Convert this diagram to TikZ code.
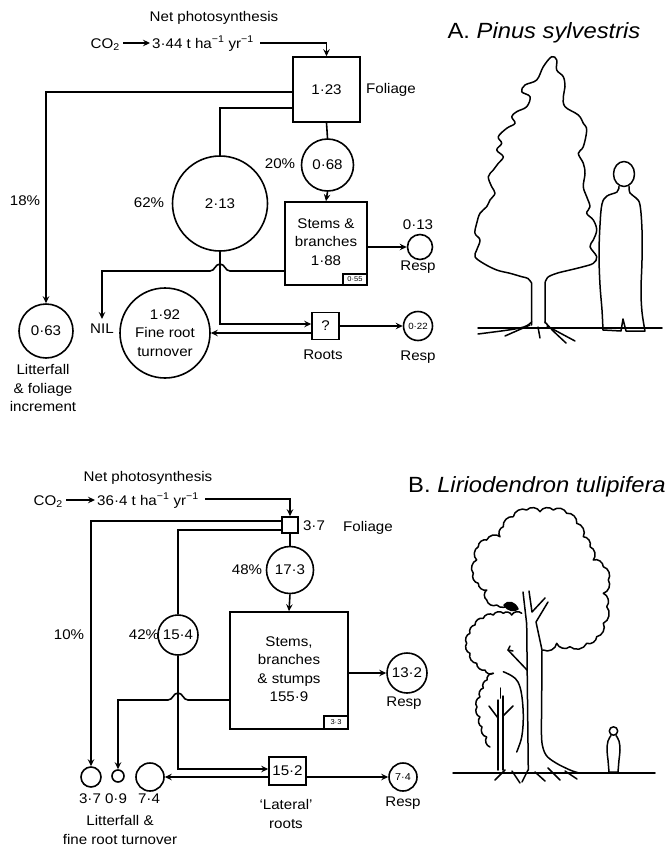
\documentclass[tikz,border=0pt]{standalone}
\usepackage{fontspec}
\setmainfont{Liberation Sans}[FakeStretch=1.08]
\usetikzlibrary{arrows.meta,calc}
\tikzset{
  ln/.style={line width=1.6pt},
  arr/.style={line width=1.6pt, -{Stealth[length=7pt,width=6.5pt,inset=2.5pt]}},
  box/.style={draw, line width=1.6pt, inner sep=0pt, font=\fontsize{14}{17}\selectfont},
  circ/.style={draw, circle, line width=1.6pt, inner sep=0pt, font=\fontsize{14}{17}\selectfont},
  lbl/.style={font=\fontsize{14}{18.5}\selectfont, inner sep=0pt, align=center},
  ttl/.style={font=\fontsize{22}{26}\selectfont, inner sep=0pt},
  tiny/.style={font=\fontsize{7}{8}\selectfont},
  art/.style={line width=1.5pt, line join=round, line cap=round},
  scal/.style={bend right=55}
}
\begin{document}
\begin{tikzpicture}[x=1pt,y=-1pt]
\fill[white] (0,0) rectangle (669,846);
\useasboundingbox (0,0) rectangle (669,846);

% ================= A =================
\node[ttl] (titleA) at (544,33) {A. \textit{Pinus sylvestris}};
\node[lbl] (netA) at (214,18) {Net photosynthesis};
\node[lbl, anchor=base east] (co2A) at (120,48) {CO\textsubscript{2}};
\node[lbl, anchor=base west] (fluxA) at (152,48) {3·44 t ha\textsuperscript{−1} yr\textsuperscript{−1}};
\node[box, minimum width=67pt, minimum height=65pt] (folA) at (326.5,89.5) {1·23};
\node[lbl] (folAl) at (391,90) {Foliage};
\node[circ, minimum size=52pt] (c068) at (327.5,165) {0·68};
\node[lbl] (p20) at (280,164) {20\%};
\node[circ, minimum size=95pt] (c213) at (220,203.5) {2·13};
\node[lbl] (p62) at (149,203) {62\%};
\node[lbl] (p18) at (25,201) {18\%};
\node[box, minimum width=82pt, minimum height=83pt] (stA) at (326,243.5) {};
\node[lbl] (stAt) at (326,242) {Stems \&\\branches\\1·88};
\node[box, tiny, minimum width=24pt, minimum height=11pt, anchor=south east] (sbA) at (stA.south east) {0·55};
\node[circ, minimum size=25pt] (c013) at (420,247) {};
\node[lbl] (l013) at (418,225) {0·13};
\node[lbl] (r013) at (418,267) {Resp};
\node[circ, minimum size=54pt] (c063) at (46,331) {0·63};
\node[lbl] (litA) at (43,388) {Litterfall\\\& foliage\\increment};
\node[lbl, inner sep=5pt] (nil) at (102,329) {NIL};
\node[circ, minimum size=90pt, align=center, font=\fontsize{14}{18.5}\selectfont] (cfr) at (165,333) {1·92\\Fine root\\turnover};
\node[box, minimum size=27pt] (rtA) at (325.5,326) {?};
\node[lbl] (rtAl) at (323,355) {Roots};
\node[circ, minimum size=29pt, font=\fontsize{9}{10}\selectfont] (c022) at (418,326) {0·22};
\node[lbl] (r022) at (418,357) {Resp};

\draw[arr] ([yshift=5pt]co2A.base east) ++(3pt,0) -- ([yshift=5pt,xshift=-2pt]fluxA.base west);
\draw[arr] ([xshift=6pt,yshift=5pt]fluxA.base east) -| (folA.north);
\draw[arr] ([yshift=-2.5pt]folA.west) -| (c063.north);
\draw[ln] ([yshift=-18.5pt]folA.west) -| (c213.north);
\draw[ln] (folA.south) -- (c068.north);
\draw[arr] (c068.south) -- (stA.north);
\draw[arr] (stA.east |- c013.west) -- (c013.west);
\coordinate (hopA) at (220,271);
\draw[arr] (stA.west |- hopA) -- (230,271) .. controls (225,271) and (225,264) .. (220,264)
   .. controls (215,264) and (215,271) .. (210,271) -| (nil.north);
\draw[arr] (c213.south) |- ([yshift=2pt]rtA.west);
\draw[arr] ([yshift=-7pt]rtA.west) -- (cfr.east);
\draw[arr] (rtA.east) -- (c022.west);

% Pine tree
\draw[art] (531.7,325) -- (531.7,283.3) -- plot[smooth, tension=0.6] coordinates {
 (531.7,283.3) (528,278.5) (521.7,276.7) (510,273.3) (496.7,270) (483.3,263.3) (475,256.7)
 (476.7,250) (480,240) (475,233.3) (476.7,223.3) (480,213.3) (486.7,206.7) (490,200)
 (495,193.3) (491.7,186.7) (488.3,176.7) (493.3,170) (498.3,163.3) (503.3,156.7)
 (496.7,150) (501.7,143.3) (498.3,136.7) (506.7,128.3) (515,123.3) (511.7,116.7)
 (516.7,111.7) (526.7,106.7) (530,96.7) (521.7,91.7) (525,85) (536.7,80) (543.3,66.7)
 (551.7,56.7) (556.7,60) (556.7,70) (563.3,76.7) (565,86.7) (563.3,96.7) (565,106.7)
 (578.3,115) (583.3,123.3) (586.7,130) (583.3,146.7) (578.3,153.3) (583.3,163.3)
 (585,173.3) (583.3,186.7) (586.7,196.7) (590,206.7) (586.7,213.3) (593.3,220)
 (596.7,230) (593.3,240) (590,246.7) (596.7,256.7) (593.3,263.3) (583.3,266.7)
 (570,270) (556.7,273.3) (547.5,277.5) (545,283.3)} -- (545,323);
% pine roots
\draw[art] (531.7,322) .. controls (525,328) .. (478,334);
\draw[art] (530,325) -- (505,336);
\draw[art] (545,322) .. controls (552,330) .. (566,343);
\draw[art] (547,326) -- (575,341);
\draw[art] (538,327) -- (540,338);
% ground A
\draw[art] (478,328) -- (662,328);
% person A
\draw[art] (624,174) ellipse [x radius=10.5, y radius=12.5];
\draw[art] plot[smooth, tension=0.6] coordinates {(619,186.5) (617,192) (607,196) (602,204)
  (600,225) (599,255) (600,285) (602,310) (603,330)} -- (621,331) -- (623,319) -- (626,331)
  -- (645,331) -- plot[smooth, tension=0.6] coordinates {(645,331) (642,312) (641,290)
  (642,260) (642,230) (640,205) (636,198) (630,193) (629,186.5)};

% ================= B =================
\node[ttl] (titleB) at (537,487) {B. \textit{Liriodendron tulipifera}};
\node[lbl] (netB) at (148,478) {Net photosynthesis};
\node[lbl, anchor=base east] (co2B) at (63,505) {CO\textsubscript{2}};
\node[lbl, anchor=base west] (fluxB) at (97,505) {36·4 t ha\textsuperscript{−1} yr\textsuperscript{−1}};
\node[box, minimum size=16pt] (folB) at (290,525) {};
\node[lbl] (v37) at (314,526) {3·7};
\node[lbl] (folBl) at (368,528) {Foliage};
\node[circ, minimum size=47pt] (c173) at (290,570) {17·3};
\node[lbl] (p48) at (247,570) {48\%};
\node[circ, minimum size=40pt] (c154) at (178,635) {15·4};
\node[lbl] (p42) at (144,635) {42\%};
\node[lbl] (p10) at (69,635) {10\%};
\node[box, minimum width=118pt, minimum height=117pt] (stB) at (289,670.5) {};
\node[lbl] (stBt) at (289,669) {Stems,\\branches\\\& stumps\\155·9};
\node[box, tiny, minimum width=24pt, minimum height=13pt, anchor=south east] (sbB) at (stB.south east) {3·3};
\node[circ, minimum size=40pt] (c132) at (407,673) {13·2};
\node[lbl] (r132) at (404,703) {Resp};
\node[box, minimum width=37pt, minimum height=28pt] (latB) at (287.5,771) {15·2};
\node[lbl] (latBl) at (286,814) {‘Lateral’\\roots};
\node[circ, minimum size=28pt, font=\fontsize{10}{11}\selectfont] (c74r) at (403,777) {7·4};
\node[lbl] (r74) at (403,803) {Resp};
\node[circ, minimum size=20pt] (c37) at (91,777) {};
\node[circ, minimum size=12pt] (c09) at (118,776) {};
\node[circ, minimum size=28pt] (c74) at (150,777) {};
\node[lbl] (v37b) at (90,799) {3·7};
\node[lbl] (v09) at (116,799) {0·9};
\node[lbl] (v74) at (149,799) {7·4};
\node[lbl] (litB) at (120,830) {Litterfall \&\\fine root turnover};

\draw[arr] ([yshift=5pt]co2B.base east) ++(3pt,0) -- ([yshift=5pt,xshift=-2pt]fluxB.base west);
\draw[arr] ([xshift=6pt,yshift=6pt]fluxB.base east) -| (folB.north);
\draw[arr] ([yshift=4pt]folB.west) -| (c37.north);
\draw[ln] ([yshift=-5pt]folB.west) -| (c154.north);
\draw[ln] (folB.south) -- (c173.north);
\draw[arr] (c173.south) -- (stB.north);
\draw[arr] (stB.east |- c132.west) -- (c132.west);
\coordinate (hopB) at (178,700);
\draw[arr] (stB.west |- hopB) -- (188,700) .. controls (183,700) and (183,693) .. (178,693)
   .. controls (173,693) and (173,700) .. (168,700) -| (c09.north);
\draw[arr] (c154.south) |- ([yshift=2pt]latB.west);
\draw[arr] ([yshift=-6pt]latB.west) -- (c74.east);
\draw[arr] ([yshift=-6pt]latB.east) -- (c74r.west);

% Tulip tree: big crown
\draw[art] (543.3,650) to[scal] (556.7,643.3) to[scal] (570,646.7) to[scal] (586.7,643.3)
 to[scal] (596.7,636.7) to[scal] (603.3,623.3) to[scal] (606.7,606.7) to[scal] (603.3,593.3)
 to[scal] (608.3,580) to[scal] (603.3,566.7) to[scal] (593.3,560) to[scal] (590,546.7)
 to[scal] (583.3,536.7) to[scal] (576.7,523.3) to[scal] (566.7,513.3) to[scal] (553.3,510)
 to[scal] (540,511.7) to[scal] (526.7,510) to[scal] (513.3,516.7) to[scal] (503.3,526.7)
 to[scal] (500,536.7) to[scal] (486.7,540) to[scal] (478.3,546.7) to[scal] (476.7,560)
 to[scal] (473.3,573.3) to[scal] (478.3,583.3) to[scal] (486.7,590) to[scal] (486.7,600)
 to[scal] (496.7,605) to[scal] (510,603.3);
% middle crown
\draw[art] (521.7,613.3) to[scal] (511.7,615) to[scal] (503.3,613.3) to[scal] (493.3,615)
 to[scal] (483.3,618.3) to[scal] (475,625) to[scal] (470,633.3) to[scal] (466.7,643.3)
 to[scal] (470,653.3) to[scal] (476.7,663.3) to[scal] (485,670) to[scal] (493.3,673.3);
% small tree crown
\draw[art] (493.3,673.3) to[scal] (487,680) to[scal] (483.3,688) to[scal] (480,697)
 to[scal] (477,707) to[scal] (480,717) to[scal] (482,727) to[scal] (486.7,737) to[scal] (490,747);
\draw[art] plot[smooth, tension=0.6] coordinates {(503.3,671.7) (512,676) (518,682)
 (521.7,695) (523.3,717) (521.7,737) (516.7,752)};
% main trunk
\draw[art] (526.7,624) -- (527.5,700) -- (528.3,770);
\draw[art] plot[smooth, tension=0.5] coordinates {(542,650) (541.7,700) (541.7,740) (546,755)
 (556,763) (570,770) (579,773)};
% fork inside crown
\draw[art] (526.7,624) -- (523,592);
\draw[art] (529,591) -- (532,612) -- (545,598);
\draw[art] (548,602) -- (536,622) -- (542,650);
% branch stubs
\draw[art, fill=black] (504,605) .. controls (508,600) and (515,602) .. (518,609)
   .. controls (514,612) and (508,611) .. (504,605);
\draw[art] (527,670) -- (508,650) -- (510,646);
\draw[art] (508,650) -- (513,651);
% small trunk
\draw[art] (498,700) -- (498,770);
\draw[art] (503,696) -- (503,770);
\draw[art] (500.5,688) -- (500.5,698);
\draw[art] (489,706) -- (498,718);
\draw[art] (513,706) -- (503,716);
% roots B
\draw[art] (505,770) -- (495,780);
\draw[art] (512,771) -- (520,783);
\draw[art] (528,770) -- (522,782);
\draw[art] (535,772) -- (545,781);
\draw[art] (548,768) -- (560,780);
\draw[art] (565,771) -- (577,779);
% ground B
\draw[art] (453,773) -- (655,773);
% person B
\draw[art] (613.5,731) circle [radius=4.2];
\draw[art] plot[smooth, tension=0.6] coordinates {(611,735.5) (608,741) (607,750) (608,760) (609,772)}
  -- (618,772) -- plot[smooth, tension=0.6] coordinates {(618,772) (619,760) (620,750) (619,741) (616,735.5)};
\end{tikzpicture}
\end{document}
